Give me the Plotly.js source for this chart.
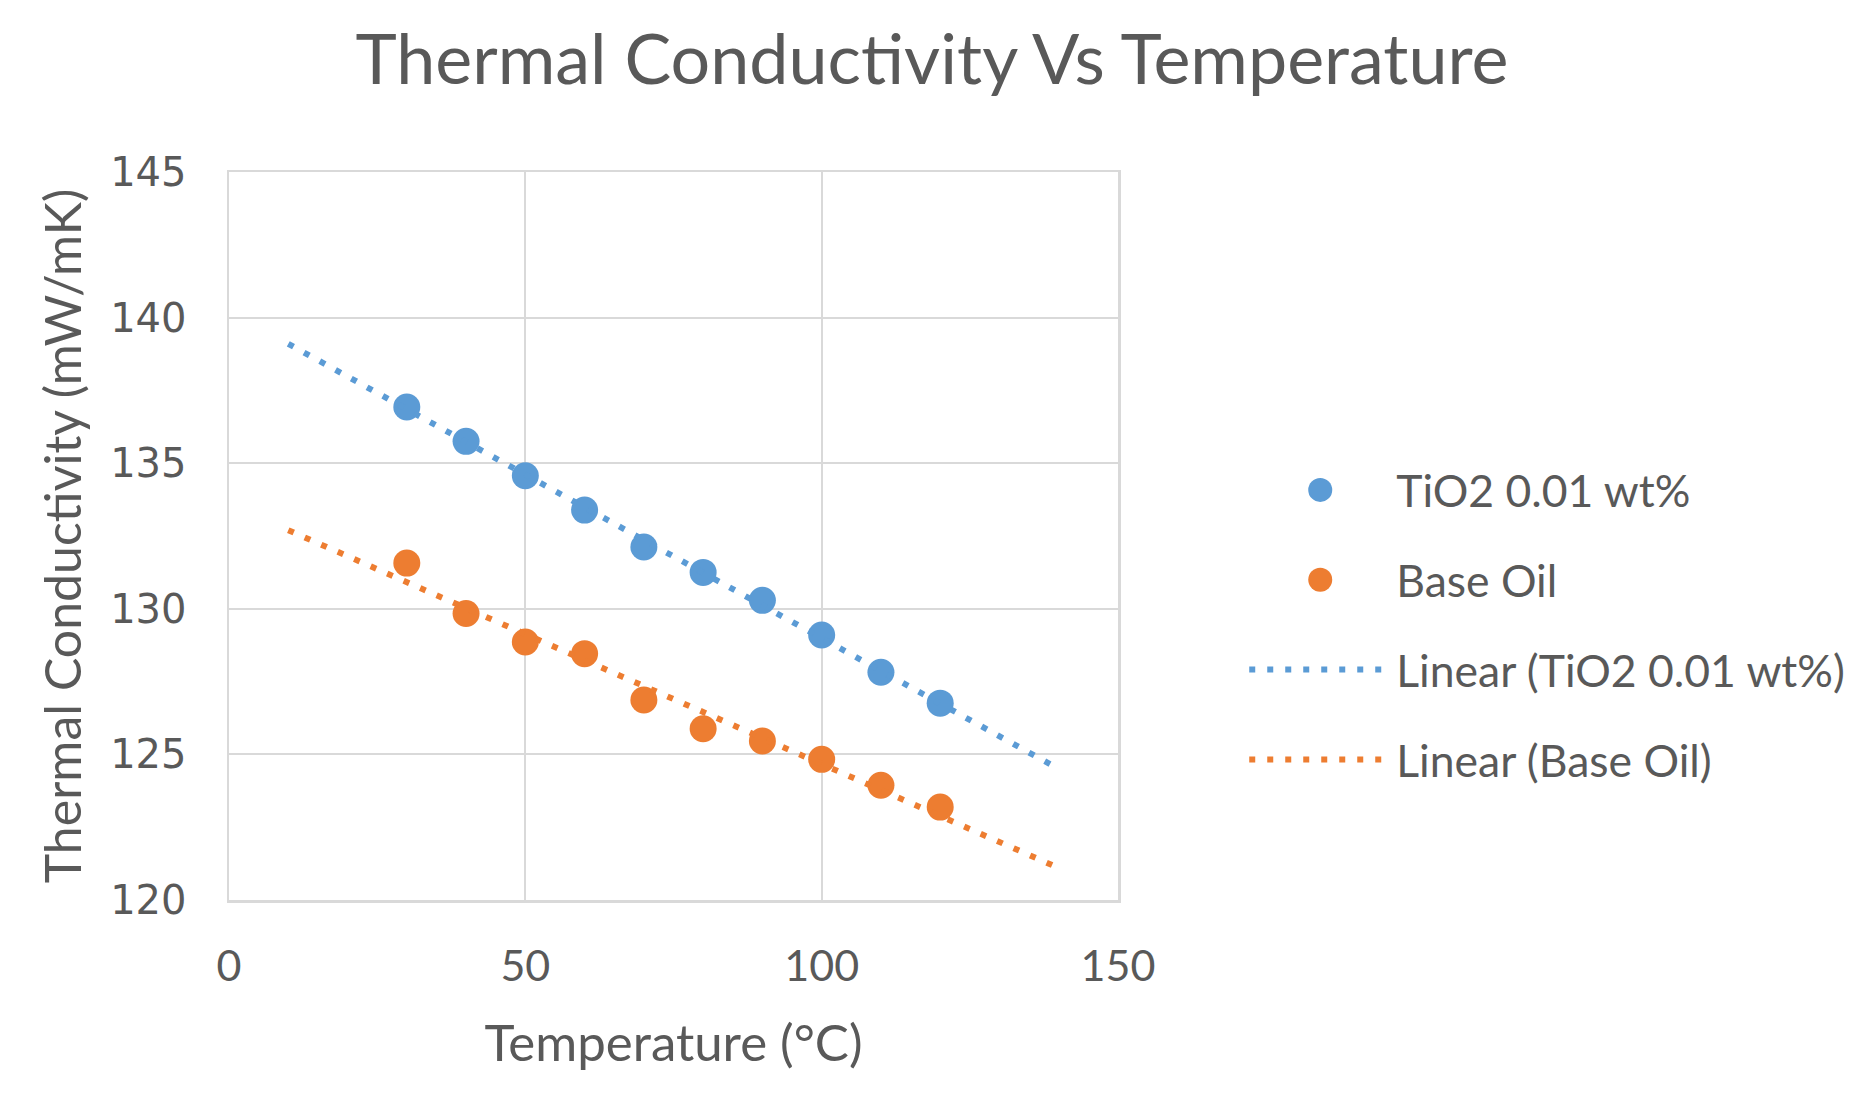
<!DOCTYPE html>
<html>
<head>
<meta charset="utf-8">
<script src="https://cdn.plot.ly/plotly-3.0.1.min.js"></script>
<style>
  body { margin: 0; background: #ffffff; }
  #chart_plot { width: 1862px; height: 1102px; }
</style>
</head>
<body>
<div id="chart_plot"></div>
<script>
// measured temperatures (°C)
const temperature = [30, 40, 50, 60, 70, 80, 90, 100, 110, 120];
// thermal conductivity (mW/mK)
const tio2Values = [136.93, 135.75, 134.57, 133.39, 132.12, 131.25, 130.29, 129.1, 127.82, 126.76];
const baseOilValues = [131.57, 129.84, 128.86, 128.46, 126.87, 125.88, 125.46, 124.83, 123.94, 123.19];
// Excel trendline end points
const trendX = [10, 140];
const tio2Trend = [139.1, 124.5];
const baseOilTrend = [132.7, 121.1];

const seriesNames = ['TiO2 0.01 wt%', 'Base Oil', 'Linear (TiO2 0.01 wt%)', 'Linear (Base Oil)'];
const xTicks = [0, 50, 100, 150];
const yTicks = [120, 125, 130, 135, 140, 145];

const blue = '#5b9bd5';
const orange = '#ed7d31';
const textGrey = '#595959';
const gridGrey = '#d9d9d9';

class ChartPlot {
  constructor(plotName) {
    this.id = `${plotName}_plot`;
    this.traces = [
      this.markerTrace(seriesNames[0], temperature, tio2Values, blue),
      this.markerTrace(seriesNames[1], temperature, baseOilValues, orange),
      this.trendTrace(seriesNames[2], trendX, tio2Trend, blue),
      this.trendTrace(seriesNames[3], trendX, baseOilTrend, orange),
    ];
    Plotly.newPlot(this.id, this.traces, this.layout(), {staticPlot: true})
      .then(() => this.growLegendMarkers());
  }

  markerTrace(name, x, y, color) {
    return {
      x: x, y: y, name: name, legendgroup: name,
      type: 'scatter', mode: 'markers',
      marker: {color: color, size: 27},
      cliponaxis: false
    };
  }

  trendTrace(name, x, y, color) {
    return {
      x: x, y: y, name: name, legendgroup: name,
      type: 'scatter', mode: 'lines',
      line: {color: color, width: 6, dash: '6px,12px'}
    };
  }

  // plotly caps legend markers at 16px, the excel legend ones are bigger
  growLegendMarkers() {
    document.querySelectorAll(`#${this.id} .legend .legendpoints path.scatterpts`).forEach(pt => {
      const tr = pt.getAttribute('transform') || '';
      pt.setAttribute('transform', tr + ' scale(1.5)');
    });
  }

  layout() {
    return {
      width: 1862,
      height: 1102,
      paper_bgcolor: '#ffffff',
      plot_bgcolor: '#ffffff',
      margin: {l: 229, r: 738, t: 172, b: 202},
      font: {family: 'Lato, sans-serif', color: textGrey},
      title: {
        text: 'Thermal Conductivity Vs Temperature',
        font: {size: 70, color: textGrey},
        x: 932 / 1862, xref: 'container', xanchor: 'center',
        y: 1 - 59 / 1102, yanchor: 'middle'
      },
      xaxis: {
        range: [0, 150],
        tickvals: xTicks,
        ticktext: xTicks.map(String),
        showgrid: true, gridcolor: gridGrey, gridwidth: 2,
        showline: true, mirror: true, linecolor: gridGrey, linewidth: 2.5,
        zeroline: false, ticks: '',
        ticklabelstandoff: 27,
        tickfont: {size: 43, color: textGrey},
        title: {text: 'Temperature (°C)', font: {size: 51, color: textGrey}, standoff: 36}
      },
      yaxis: {
        range: [120, 145],
        tickvals: yTicks,
        ticktext: yTicks.map(String),
        showgrid: true, gridcolor: gridGrey, gridwidth: 2,
        showline: true, mirror: true, linecolor: gridGrey, linewidth: 2.5,
        zeroline: false, ticks: '',
        ticklabelstandoff: 32,
        tickfont: {family: 'DejaVu Sans, sans-serif', size: 40, color: textGrey},
        title: {text: 'Thermal Conductivity (mW/mK)', font: {size: 50, color: textGrey}, standoff: 13}
      },
      showlegend: true,
      legend: {
        x: 1.142, xanchor: 'left',
        y: 0.612, yanchor: 'top',
        traceorder: 'grouped',
        tracegroupgap: 29,
        itemwidth: 142,
        bgcolor: 'rgba(0,0,0,0)',
        font: {size: 44.5, color: textGrey}
      }
    };
  }
}

const chart = new ChartPlot('chart');
</script>
</body>
</html>
